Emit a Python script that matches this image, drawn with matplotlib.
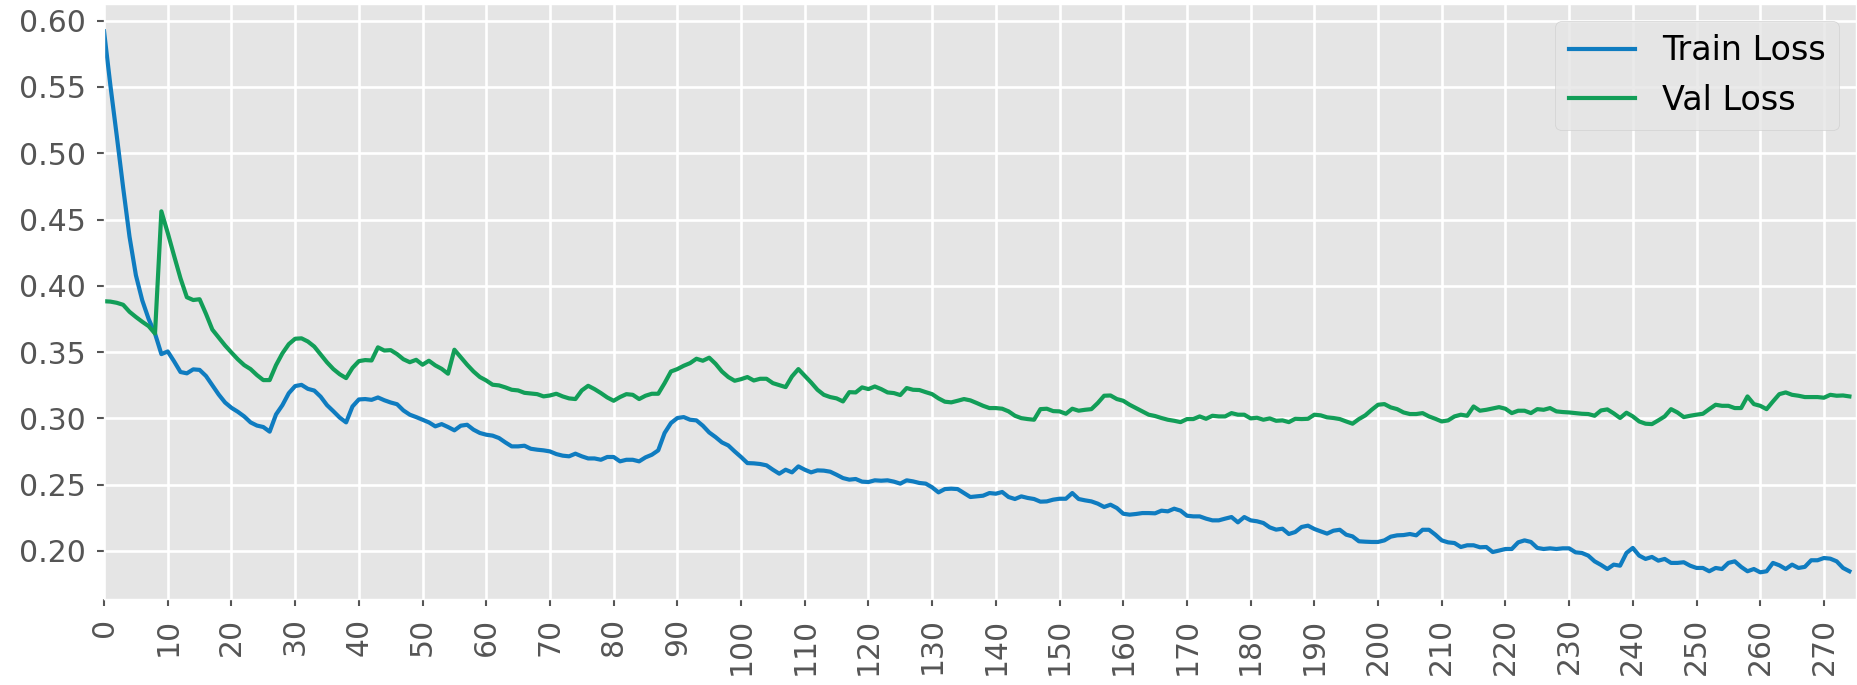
import numpy as np
import matplotlib
matplotlib.use("Agg")
import matplotlib.pyplot as plt

# loss per epoch
train_loss = [
    0.592, 0.551, 0.513, 0.474, 0.437, 0.408, 0.389, 0.375, 0.364, 0.3485,
    0.3505, 0.343, 0.335, 0.334, 0.337, 0.3366, 0.332, 0.325, 0.318, 0.312,
    0.308, 0.305, 0.3015, 0.297, 0.2946, 0.2935, 0.290, 0.303, 0.310, 0.319,
    0.3244, 0.3253, 0.3223, 0.321, 0.3164, 0.310, 0.3054, 0.3006, 0.297, 0.309,
    0.3143, 0.3146, 0.314, 0.3158, 0.3137, 0.312, 0.3107, 0.306, 0.3028, 0.301,
    0.299, 0.297, 0.294, 0.2957, 0.2935, 0.291, 0.2945, 0.2952, 0.2915, 0.289,
    0.2877, 0.287, 0.2852, 0.2819, 0.2789, 0.2789, 0.2794, 0.2771, 0.2764, 0.2759,
    0.2751, 0.2731, 0.2719, 0.2714, 0.2734, 0.2714, 0.2698, 0.2698, 0.2688, 0.2709,
    0.2709, 0.2676, 0.2688, 0.2688, 0.2676, 0.2706, 0.2726, 0.2759, 0.289, 0.2965,
    0.3003, 0.301, 0.299, 0.2985, 0.2945, 0.2894, 0.2859, 0.2819, 0.2796, 0.2751,
    0.2709, 0.2663, 0.2661, 0.2656, 0.2646, 0.2613, 0.2583, 0.2613, 0.2593, 0.2638,
    0.2613, 0.2593, 0.2608, 0.2606, 0.2598, 0.2575, 0.255, 0.2538, 0.2543, 0.2523,
    0.252, 0.2533, 0.253, 0.2533, 0.2523, 0.2508, 0.2533, 0.2525, 0.2513, 0.2508,
    0.248, 0.2442, 0.2467, 0.247, 0.2467, 0.2437, 0.2407, 0.2412, 0.2417, 0.2437,
    0.2432, 0.2445, 0.2407, 0.2392, 0.2412, 0.240, 0.2392, 0.2372, 0.2374, 0.2387,
    0.2394, 0.2394, 0.2437, 0.2392, 0.2382, 0.2374, 0.2357, 0.2332, 0.2349, 0.2324,
    0.2281, 0.2274, 0.2279, 0.2286, 0.2286, 0.2284, 0.2304, 0.2299, 0.2319, 0.2304,
    0.2266, 0.2261, 0.2261, 0.2244, 0.2231, 0.2231, 0.2244, 0.2256, 0.2216, 0.2256,
    0.2231, 0.2224, 0.2211, 0.2178, 0.2161, 0.2168, 0.2128, 0.2143, 0.2181, 0.2191,
    0.2166, 0.2148, 0.2131, 0.2153, 0.216, 0.2123, 0.211, 0.2073, 0.207, 0.2068,
    0.2068, 0.208, 0.2108, 0.2118, 0.212, 0.2128, 0.2118, 0.216, 0.216, 0.2123,
    0.208, 0.2065, 0.206, 0.203, 0.2043, 0.2043, 0.2028, 0.203, 0.1992, 0.2003,
    0.2015, 0.2015, 0.2065, 0.208, 0.2068, 0.2023, 0.2015, 0.202, 0.2015, 0.202,
    0.202, 0.199, 0.1985, 0.1965, 0.1922, 0.1895, 0.1864, 0.1897, 0.1889, 0.1985,
    0.2023, 0.1965, 0.194, 0.1955, 0.1927, 0.194, 0.191, 0.191, 0.1915, 0.1889,
    0.1872, 0.1872, 0.1847, 0.1872, 0.1864, 0.191, 0.1922, 0.188, 0.1847, 0.1864,
    0.1839, 0.1847, 0.191, 0.1892, 0.1864, 0.1897, 0.1872, 0.188, 0.193, 0.193,
    0.1947, 0.1942, 0.1922, 0.1872, 0.1847,
]

val_loss = [
    0.3884, 0.3881, 0.3872, 0.3857, 0.3804, 0.3765, 0.3729, 0.3696, 0.364, 0.4562,
    0.4399, 0.4226, 0.4057, 0.3914, 0.3893, 0.3899, 0.3789, 0.367, 0.361, 0.355,
    0.3497, 0.3446, 0.3402, 0.3372, 0.3327, 0.3289, 0.3289, 0.3402, 0.3491, 0.356,
    0.3601, 0.3604, 0.358, 0.3542, 0.3482, 0.3423, 0.3372, 0.3333, 0.3304, 0.3381,
    0.3432, 0.344, 0.3437, 0.3536, 0.3512, 0.3515, 0.3485, 0.3446, 0.3424, 0.3442,
    0.3405, 0.3435, 0.340, 0.3374, 0.3337, 0.3518, 0.3462, 0.3405, 0.3354, 0.3312,
    0.3286, 0.3254, 0.3249, 0.3234, 0.3216, 0.3211, 0.3193, 0.3188, 0.3183, 0.3166,
    0.3173, 0.3186, 0.3166, 0.3151, 0.3146, 0.3211, 0.3246, 0.3221, 0.3191, 0.3158,
    0.3133, 0.3161, 0.3183, 0.3178, 0.3146, 0.3171, 0.3186, 0.3186, 0.3266, 0.3354,
    0.3372, 0.3397, 0.3417, 0.345, 0.3435, 0.3458, 0.3412, 0.3354, 0.3312, 0.3284,
    0.3296, 0.3312, 0.3286, 0.3299, 0.3299, 0.3266, 0.3251, 0.3236, 0.3317, 0.3372,
    0.3322, 0.3271, 0.3216, 0.3178, 0.3161, 0.3151, 0.3128, 0.3198, 0.3196, 0.3234,
    0.3221, 0.3241, 0.3221, 0.3196, 0.3191, 0.3176, 0.3229, 0.3216, 0.3214, 0.3198,
    0.3183, 0.3151, 0.3126, 0.3121, 0.3133, 0.3146, 0.3136, 0.3116, 0.3095, 0.3078,
    0.3078, 0.3073, 0.3053, 0.302, 0.3002, 0.2995, 0.299, 0.307, 0.3073, 0.3055,
    0.3053, 0.3035, 0.3073, 0.3058, 0.3065, 0.307, 0.3116, 0.3171, 0.3173, 0.3146,
    0.3133, 0.3103, 0.3078, 0.3053, 0.3028, 0.3018, 0.3003, 0.299, 0.2982, 0.2972,
    0.2995, 0.2995, 0.3015, 0.2997, 0.302, 0.3015, 0.3015, 0.304, 0.3028, 0.3028,
    0.300, 0.3005, 0.299, 0.300, 0.2982, 0.2985, 0.2972, 0.2997, 0.2995, 0.2997,
    0.3028, 0.3023, 0.3008, 0.3003, 0.2995, 0.2977, 0.296, 0.2995, 0.3023, 0.3065,
    0.3103, 0.3108, 0.3083, 0.307, 0.3045, 0.3033, 0.3033, 0.304, 0.3015, 0.2997,
    0.2977, 0.2985, 0.3015, 0.3028, 0.302, 0.309, 0.3058, 0.3065, 0.3075, 0.3085,
    0.3073, 0.304, 0.3058, 0.3058, 0.304, 0.307, 0.3065, 0.3078, 0.3053, 0.3048,
    0.3045, 0.304, 0.3035, 0.3033, 0.302, 0.306, 0.3068, 0.3038, 0.3003, 0.3043,
    0.3015, 0.2977, 0.296, 0.2957, 0.2985, 0.3015, 0.307, 0.3045, 0.301, 0.302,
    0.3028, 0.3035, 0.307, 0.3103, 0.3095, 0.3095, 0.3078, 0.3078, 0.3166, 0.3108,
    0.3095, 0.307, 0.3128, 0.3183, 0.3196, 0.3178, 0.3171, 0.3161, 0.3161, 0.3161,
    0.3156, 0.3178, 0.3171, 0.3173, 0.3166,
]

epochs = np.arange(len(train_loss))

plt.style.use("ggplot")
fig = plt.figure(figsize=(18.58, 6.85), dpi=100)
ax = fig.add_axes([0.056, 0.125, 0.9428, 0.8688])

ax.plot(epochs, train_loss, color="#0f7cc0", lw=3.0, label="Train Loss")
ax.plot(epochs, val_loss, color="#129e58", lw=3.0, label="Val Loss")

ax.set_xlim(0, len(train_loss))
ax.set_xticks(np.arange(0, len(train_loss), 10))
ax.grid(True, color="white", lw=1.9)
ax.tick_params(axis="both", labelsize=21.5, length=5, width=1.5, pad=8, colors="#555555")
ax.tick_params(axis="x", labelrotation=90)

ax.legend(loc="upper right", fontsize=24)

fig.savefig("out.png", dpi=100)
